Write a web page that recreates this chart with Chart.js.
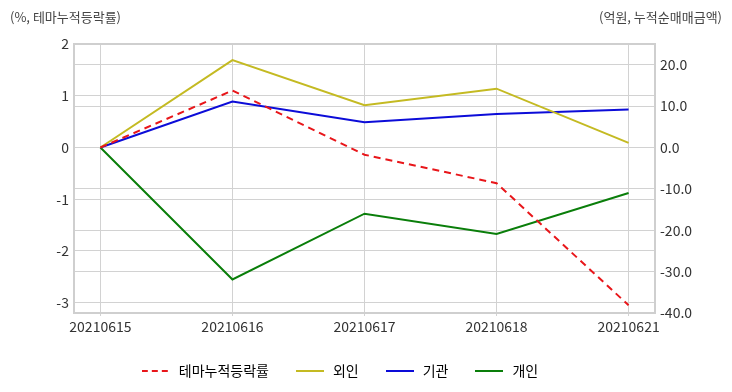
<!DOCTYPE html>
<html>
<head>
<meta charset="utf-8">
<script src="https://cdn.jsdelivr.net/npm/chart.js@4"></script>
<style>
  body { margin: 0; background: #fff; }
  #wrap { position: relative; width: 732px; height: 392px; }
  .unit { position: absolute; top: 7px; font: 13px "Noto Sans CJK KR", "Noto Sans", sans-serif; color: #444; }
</style>
</head>
<body>
<div id="wrap">
  <div class="unit" style="left:10px">(%, 테마누적등락률)</div>
  <div class="unit" style="right:10px">(억원, 누적순매매금액)</div>
  <canvas id="grafico" width="732" height="392"></canvas>
</div>
<script>
var datas = ["20210615", "20210616", "20210617", "20210618", "20210621"];
var temaAcum = [0, 1.10, -0.14, -0.69, -3.05];
var estrangeiro = [0, 21.1, 10.2, 14.2, 1.1];
var instituicao = [0, 11.1, 6.1, 8.1, 9.2];
var individual = [0, -31.9, -16.0, -20.9, -11.0];

function pontos(valores) {
    var p = [];
    for (var i = 0; i < valores.length; i++) {
        p[i] = { x: i, y: valores[i] };
    }
    return p;
}

function amostra(cor, tracejado) {
    var c = document.createElement("canvas");
    c.width = 28;
    c.height = 4;
    var g = c.getContext("2d");
    g.strokeStyle = cor;
    g.lineWidth = 2;
    if (tracejado) g.setLineDash([6, 4]);
    g.beginPath();
    g.moveTo(0, 2);
    g.lineTo(28, 2);
    g.stroke();
    return c;
}

// moldura cinza em volta da area do grafico
var moldura = {
    id: "moldura",
    afterLayout: function (chart) {
        // legenda um pouco deslocada para a esquerda, como no original
        chart.legend.left -= 27;
        chart.legend.right -= 27;
    },
    afterDatasetsDraw: function (chart) {
        var a = chart.chartArea;
        var ctx = chart.ctx;
        ctx.save();
        ctx.strokeStyle = "#cfcfcf";
        ctx.lineWidth = 2;
        ctx.strokeRect(a.left, a.top, a.right - a.left, a.bottom - a.top);
        ctx.restore();
    }
};

var fonte = { family: "'Noto Sans CJK KR', 'Noto Sans', sans-serif", size: 14 };
Chart.defaults.color = "#333";

var referencia = document.querySelector("#grafico").getContext("2d");

var grafico = new Chart(referencia, {
    type: "line",
    data: {
        datasets: [{
            label: "테마누적등락률",
            data: pontos(temaAcum),
            borderColor: "#e8161a",
            borderDash: [7, 5],
            borderWidth: 2,
            yAxisID: "y",
            amostra: amostra("#e8161a", true)
        }, {
            label: "외인",
            data: pontos(estrangeiro),
            borderColor: "#c4ba22",
            borderWidth: 2,
            yAxisID: "y1",
            amostra: amostra("#c4ba22", false)
        }, {
            label: "기관",
            data: pontos(instituicao),
            borderColor: "#0c0cd8",
            borderWidth: 2,
            yAxisID: "y1",
            amostra: amostra("#0c0cd8", false)
        }, {
            label: "개인",
            data: pontos(individual),
            borderColor: "#0a7e0a",
            borderWidth: 2,
            yAxisID: "y1",
            amostra: amostra("#0a7e0a", false)
        }]
    },
    options: {
        responsive: false,
        animation: false,
        layout: { padding: { left: 0, right: 0, top: 44, bottom: 4 } },
        elements: {
            point: { radius: 0, hoverRadius: 0 },
            line: { tension: 0, fill: false }
        },
        plugins: {
            tooltip: { enabled: false },
            legend: {
                position: "bottom",
                labels: {
                    font: fonte,
                    color: "#333",
                    usePointStyle: true,
                    pointStyleWidth: 32,
                    padding: 25,
                    generateLabels: function (chart) {
                        return chart.data.datasets.map(function (ds, i) {
                            return {
                                text: ds.label,
                                pointStyle: ds.amostra,
                                fillStyle: ds.borderColor,
                                strokeStyle: ds.borderColor,
                                lineWidth: 0,
                                hidden: false,
                                datasetIndex: i
                            };
                        });
                    }
                }
            }
        },
        scales: {
            x: {
                type: "linear",
                min: -0.2,
                max: 4.2,
                afterFit: function (s) { s.height = 26; },
                grid: { color: "#d2d2d2", tickLength: 3 },
                border: { display: false },
                ticks: {
                    stepSize: 1,
                    includeBounds: false,
                    autoSkip: false,
                    maxRotation: 0,
                    padding: 2,
                    font: fonte,
                    callback: function (v) { return datas[v] !== undefined ? datas[v] : ""; }
                }
            },
            y: {
                position: "left",
                min: -3.2,
                max: 2,
                afterFit: function (s) { s.width = 74; },
                grid: { color: "#d2d2d2", drawTicks: false },
                border: { display: false },
                ticks: { stepSize: 1, includeBounds: false, padding: 5, font: fonte }
            },
            y1: {
                position: "right",
                min: -40,
                max: 25,
                afterFit: function (s) { s.width = 77; },
                grid: { color: "#d2d2d2", drawTicks: false },
                border: { display: false },
                ticks: {
                    stepSize: 10,
                    includeBounds: false,
                    padding: 5,
                    font: fonte,
                    callback: function (v) { return v.toFixed(1); }
                }
            }
        }
    },
    plugins: [moldura]
});
</script>
</body>
</html>
